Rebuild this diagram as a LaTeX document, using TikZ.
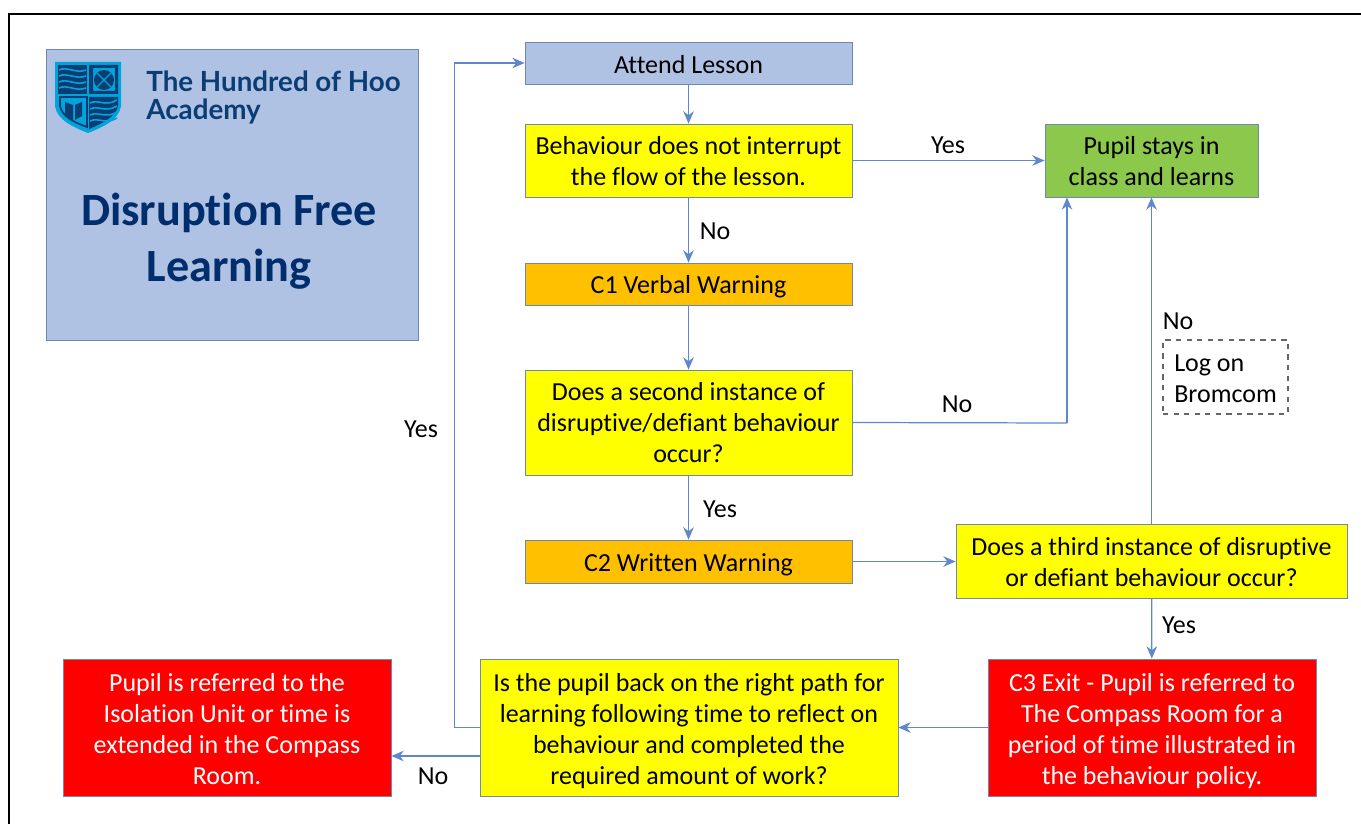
\documentclass[tikz,border=0pt]{standalone}
\usepackage{fontspec}
\setmainfont{Carlito}[Ligatures=CommonOff]
\newfontfamily\logofont{Lato}
\usetikzlibrary{arrows.meta}
\definecolor{linkblue}{HTML}{4472C4}
\definecolor{boxblue}{HTML}{AFC2E4}
\definecolor{edgeblue}{HTML}{7088B0}
\definecolor{navy}{HTML}{002E6D}
\definecolor{shieldblue}{HTML}{00A3DA}
\definecolor{hoonavy}{HTML}{0A3D73}
\definecolor{stepyellow}{HTML}{FFFF00}
\definecolor{steporange}{HTML}{FFC000}
\definecolor{stepgreen}{HTML}{8BC84B}
\tikzset{
  toplift/.store in=\toplift,toplift=16pt,
  flowbox/.style={draw=edgeblue,line width=0.5pt,align=center,inner sep=0pt,font=\fontsize{14.8}{17.7}\selectfont,
    execute at begin node={\rule{0pt}{\toplift}},execute at end node={\rule[-3.6pt]{0pt}{3.6pt}}},
  twolines/.style={toplift=32.5pt},
  threelines/.style={toplift=49pt},
  fourlines/.style={toplift=68.5pt},
  askbox/.style={flowbox,fill=stepyellow},
  warnbox/.style={flowbox,fill=steporange,toplift=14.5pt},
  exitbox/.style={flowbox,fill=red,text=white},
  link/.style={draw=linkblue!85,line width=0.7pt,-{Stealth[length=7pt,width=6pt]}},
  plain/.style={draw=linkblue!85,line width=0.7pt},
  tag/.style={font=\fontsize{14.8}{17.7}\selectfont,inner sep=0pt},
  wave/.style={shieldblue,line width=0.9pt},
}
\begin{document}
\begin{tikzpicture}[x=0.02cm,y=-0.02cm]
    \useasboundingbox (0,0) rectangle (1361,824);

    % frame
    \draw[line width=1.5pt] (9,824) -- (9,14) -- (1361,14);

    % title panel
    \node[flowbox,fill=boxblue,minimum width=7.44cm,minimum height=5.82cm] (title) at (232,194.5) {};
    \node[font=\logofont\bfseries\fontsize{15.8}{15.6}\selectfont,text=hoonavy,align=left,anchor=north west,inner sep=0pt] (school) at (146,71) {The Hundred of Hoo\\Academy};
    \node[font=\bfseries\fontsize{26.3}{31.8}\selectfont,text=navy,align=center,inner sep=0pt] (heading) at (229,241) {Disruption Free\\Learning};

    % shield
    \fill[shieldblue] (55,62) -- (121,62) -- (121,106) .. controls (119,120) and (103,127) .. (88,133) .. controls (73,127) and (57,120) .. (55,106) -- cycle;
    \fill[hoonavy] (58,65) rectangle (87,94);
    \fill[hoonavy,even odd rule] (89,65) rectangle (118,94) (93,68) rectangle (115,91);
    \fill[hoonavy] (89,97) -- (118,97) -- (118,106) .. controls (116,117) and (101,124) .. (89,129) -- cycle;
    \draw[hoonavy,line width=1pt] (60,97) -- (87,97) -- (87,127) .. controls (76,123) and (62,117) .. (60,106) -- cycle;
    \foreach \wy in {70,76,82,88} {
      \draw[wave] (59,\wy) .. controls (67,\wy-4) and (76,\wy+4) .. (86,\wy);
    }
    \foreach \wy in {103,109,115,121} {
      \draw[wave] (90,\wy) .. controls (98,\wy-4) and (106,\wy+4) .. (117,\wy-3);
    }
    \fill[hoonavy] (104,80) circle (10);
    \draw[shieldblue,line width=0.7pt] (97,73) -- (111,87) (111,73) -- (97,87);
    \fill[hoonavy] (65,102) -- (73,105) -- (73,120) -- (65,116) -- cycle (82,102) -- (75,105) -- (75,120) -- (82,116) -- cycle;

    % flow
    \node[flowbox,fill=boxblue,minimum width=6.54cm,minimum height=0.84cm] (attend) at (688.5,63) {Attend Lesson};
    \node[askbox,twolines,minimum width=6.54cm,minimum height=1.46cm] (flow) at (688.5,160.5) {Behaviour does not interrupt\\the flow of the lesson.};
    \node[warnbox,minimum width=6.54cm,minimum height=0.84cm] (cone) at (688.5,284) {C1 Verbal Warning};
    \node[askbox,threelines,minimum width=6.54cm,minimum height=2.1cm] (second) at (688.5,422.5) {Does a second instance of\\disruptive/defiant behaviour\\occur?};
    \node[warnbox,minimum width=6.54cm,minimum height=0.86cm] (ctwo) at (688.5,561.5) {C2 Written Warning};
    \node[flowbox,twolines,fill=stepgreen,minimum width=4.26cm,minimum height=1.46cm] (stays) at (1151.5,160.5) {Pupil stays in\\class and learns};
    \node[askbox,twolines,minimum width=7.82cm,minimum height=1.48cm] (third) at (1151.5,561) {Does a third instance of disruptive\\or defiant behaviour occur?};
    \node[exitbox,fourlines,minimum width=6.56cm,minimum height=2.74cm] (cthree) at (1152,727.5) {C3 Exit - Pupil is referred to\\The Compass Room for a\\period of time illustrated in\\the behaviour policy.};
    \node[askbox,fourlines,minimum width=8.36cm,minimum height=2.74cm] (path) at (689,727.5) {Is the pupil back on the right path for\\learning following time to reflect on\\behaviour and completed the\\required amount of work?};
    \node[exitbox,fourlines,minimum width=6.56cm,minimum height=2.74cm] (unit) at (227,727.5) {Pupil is referred to the\\Isolation Unit or time is\\extended in the Compass\\Room.};
    \node[flowbox,twolines,align=left,draw=black!60,dashed,line width=0.7pt,minimum width=2.5cm,minimum height=1.48cm] (log) at (1225.5,377) {Log on\\Bromcom};

    \coordinate (noexit) at (480,756);
    \coordinate (turn) at (1067,423);

    \draw[link] (attend) -- (flow);
    \draw[link] (flow) -- (cone);
    \draw[link] (cone) -- (second);
    \draw[link] (second) -- (ctwo);
    \draw[link] (ctwo) -- (ctwo -| third.west);
    \draw[link] (flow) -- (stays);
    \draw[plain] (second.east) -- (turn);
    \draw[link] (turn) -- (turn |- stays.south);
    \draw[link] (third) -- (stays);
    \draw[link] (third) -- (cthree);
    \draw[link] (cthree) -- (path);
    \draw[link] (noexit) -- (noexit -| unit.east);
    \draw[link] (path.west) -- ++(-25,0) |- (attend.west);

    % answers
    \node[tag] (yesa) at (948,145) {Yes};
    \node[tag] (noa) at (715,231) {No};
    \node[tag] (nob) at (957,404) {No};
    \node[tag] (yesb) at (720,509) {Yes};
    \node[tag] (noc) at (1178,321) {No};
    \node[tag] (yesc) at (1179,625) {Yes};
    \node[tag] (yesd) at (421,429) {Yes};
    \node[tag] (nod) at (433,776) {No};
  \end{tikzpicture}
\end{document}
